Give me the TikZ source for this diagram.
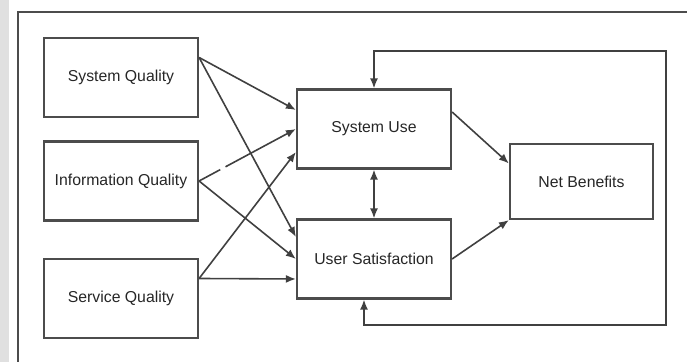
\documentclass[tikz,border=0pt]{standalone}
\usepackage{fontspec}
\setmainfont{Liberation Sans}
\usetikzlibrary{arrows.meta}

\begin{document}
\begin{tikzpicture}[x=0.5pt, y=-0.5pt, >={Latex[length=5pt, width=4pt]},
    box/.style={draw=black!70, line width=1.1pt, text=black!85, font=\fontsize{7.9}{9}\selectfont,
      minimum width=77pt, minimum height=39.5pt, inner sep=0pt},
    link/.style={->, draw=black!75, line width=0.8pt}]
  \useasboundingbox (0,0) rectangle (687,362);
  \fill[black!12] (0,0) rectangle (9,362);
  \draw[black!70, line width=0.7pt] (18,362) |- (687,12);
  % the six boxes
  \node[box] (sq) at (121,77.5) {System Quality};
  \node[box] (iq) at (121,181) {Information Quality};
  \node[box] (svq) at (121,298.5) {Service Quality};
  \node[box] (su) at (374,129) {System Use};
  \node[box] (us) at (374,259) {User Satisfaction};
  \node[box, minimum width=71.5pt, minimum height=37.5pt] (nb) at (581.5,181.5) {Net Benefits};
  % quality -> use / satisfaction
  \draw[link] ([yshift=10pt]sq.east) -- ([yshift=9.5pt]su.west);
  \draw[link] ([yshift=10pt]sq.east) -- ([yshift=11pt]us.west);
  \draw[link, dash pattern=on 12pt off 3pt on 60pt] (iq.east) -- (su.west);
  \draw[link] (iq.east) -- (us.west);
  \draw[link] ([yshift=10pt]svq.east) -- ([yshift=-11.5pt]su.west);
  \draw[link] ([yshift=10pt]svq.east) -- ([yshift=-10pt]us.west);
  % use / satisfaction -> net benefits
  \draw[link] ([yshift=8.5pt]su.east) -- ([yshift=9pt]nb.west);
  \draw[link] (us.east) -- (nb.south west);
  \draw[link, <->] (su.south) -- (us.north);
  % feedback loop
  \coordinate (lb) at (666,325);
  \coordinate (lt) at (666,51);
  \draw[link, <->] ([xshift=-5pt]us.south) |- (lb) -- (lt) -| (su.north);
\end{tikzpicture}
\end{document}
